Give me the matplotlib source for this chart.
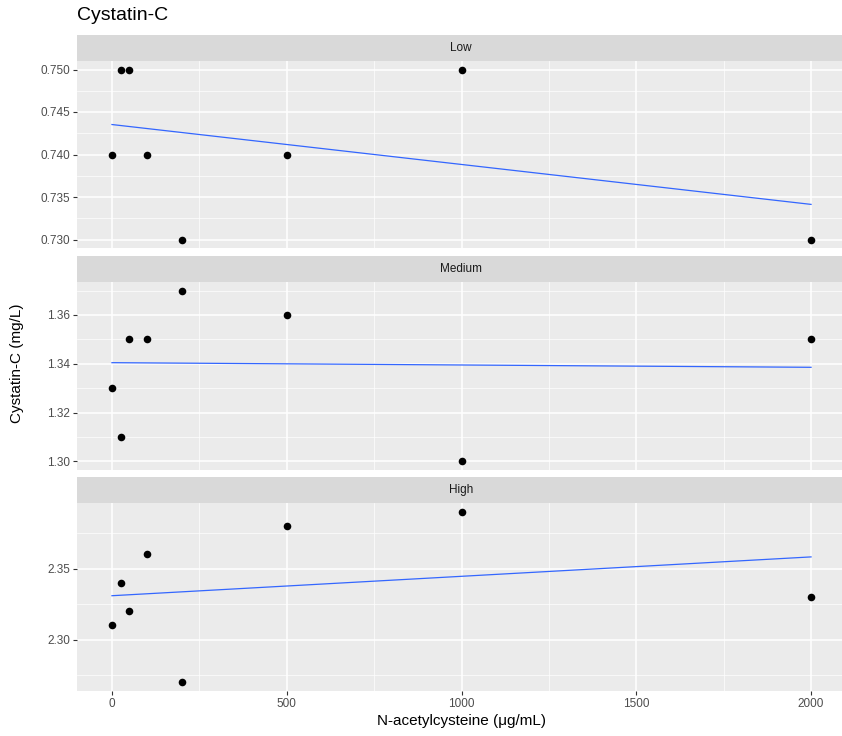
import numpy as np
import matplotlib
matplotlib.use("Agg")
import matplotlib.pyplot as plt
from matplotlib.ticker import MultipleLocator

plt.rcParams['font.family'] = ['Liberation Sans', 'DejaVu Sans']

# dose of N-acetylcysteine (ug/mL)
dose = [0, 25, 50, 100, 200, 500, 1000, 2000]

# cystatin-C (mg/L) for each concentration level
low = [0.740, 0.750, 0.750, 0.740, 0.730, 0.740, 0.750, 0.730]
medium = [1.33, 1.31, 1.35, 1.35, 1.37, 1.36, 1.30, 1.35]
high = [2.31, 2.34, 2.32, 2.36, 2.27, 2.38, 2.39, 2.33]

levels = ["Low", "Medium", "High"]
series = [low, medium, high]
yticks = [
    [0.730, 0.735, 0.740, 0.745, 0.750],
    [1.30, 1.32, 1.34, 1.36],
    [2.30, 2.35],
]
yfmt = ["{:.3f}", "{:.2f}", "{:.2f}"]
xticks = [0, 500, 1000, 1500, 2000]

W, H = 842, 736
fig = plt.figure(figsize=(W / 100, H / 100), dpi=100)

# panel boxes in pixels: (top of strip, top of panel, bottom of panel)
boxes = [(35, 61, 248), (256, 282, 470), (477, 503, 691)]
left, right = 77, 846

grey_txt = "#4D4D4D"
for i, (lev, vals, (st, pt, pb)) in enumerate(zip(levels, series, boxes)):
    ax = fig.add_axes([left / W, 1 - pb / H, (right - left) / W, (pb - pt) / H])
    ax.set_facecolor("#EBEBEB")
    for s in ax.spines.values():
        s.set_visible(False)

    x = np.array(dose, dtype=float)
    y = np.array(vals)
    ax.scatter(x, y, s=30, color="black", zorder=3, linewidths=0)

    # linear fit
    b, a = np.polyfit(x, y, 1)
    xl = np.array([x.min(), x.max()])
    ax.plot(xl, a + b * xl, color="#3366FF", lw=0.9, zorder=2)

    ax.set_xlim(-100, 2100)
    ymin, ymax = min(vals), max(vals)
    pad = (ymax - ymin) * 0.05
    ax.set_ylim(ymin - pad, ymax + pad)

    ax.set_xticks(xticks)
    ax.xaxis.set_minor_locator(MultipleLocator(250))
    ax.set_yticks(yticks[i])
    step = yticks[i][1] - yticks[i][0]
    ax.yaxis.set_minor_locator(MultipleLocator(step / 2))
    ax.set_yticklabels([yfmt[i].format(v) for v in yticks[i]])

    ax.grid(which="major", color="white", lw=1.1)
    ax.grid(which="minor", color="white", lw=0.5)
    ax.set_axisbelow(True)
    ax.tick_params(which="major", length=3, width=0.8, color="#333333",
                   labelsize=8.5, labelcolor=grey_txt, pad=2)
    ax.tick_params(which="minor", length=0)
    if i < 2:
        ax.tick_params(axis="x", labelbottom=False, length=0)

    # facet strip
    sax = fig.add_axes([left / W, 1 - pt / H, (right - left) / W, (pt - st) / H])
    sax.set_facecolor("#D9D9D9")
    sax.set_xticks([])
    sax.set_yticks([])
    for s in sax.spines.values():
        s.set_visible(False)
    sax.text((461 - left) / (right - left), 0.5, lev, ha="center", va="center",
             fontsize=8.5, color="#1A1A1A", transform=sax.transAxes)

    if i == 2:
        ax.set_xlabel("N-acetylcysteine (\u03bcg/mL)", fontsize=11, color="black", labelpad=3)

fig.text(17 / W, 1 - 363 / H, "Cystatin-C (mg/L)", rotation=90, ha="center", va="center",
         fontsize=11)
fig.text(77 / W, 1 - 16 / H, "Cystatin-C", ha="left", va="center", fontsize=14)

fig.savefig("out.png", dpi=100)
